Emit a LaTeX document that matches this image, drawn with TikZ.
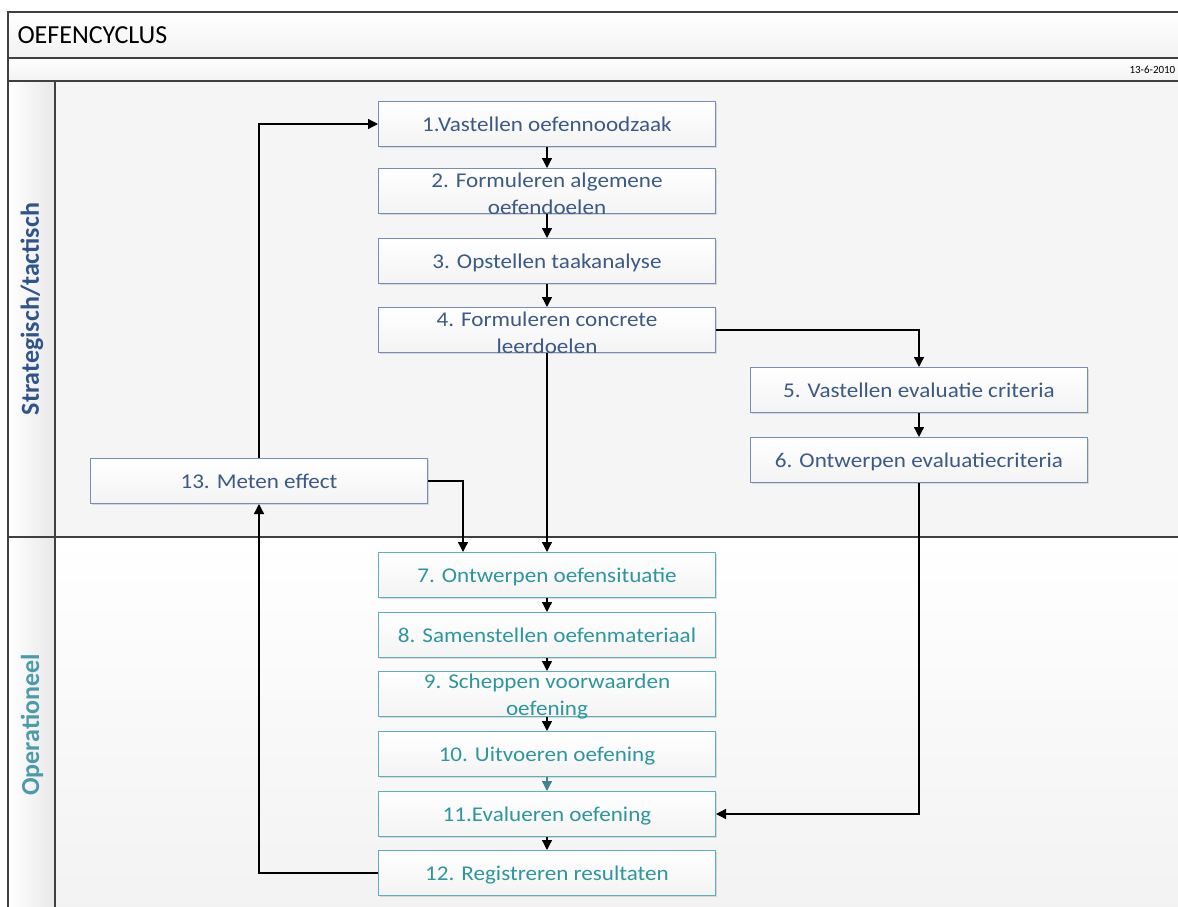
\documentclass[tikz,border=0pt]{standalone}
\usepackage{fontspec}
\setmainfont{Carlito}
\newfontfamily\stepfont[FakeStretch=1.1]{Carlito}
\usepackage{tikz}
\usetikzlibrary{arrows.meta,shadows}
\definecolor{stepblue}{RGB}{59,90,132}
\definecolor{stepteal}{RGB}{45,150,158}
\definecolor{edgeblue}{RGB}{118,142,182}
\definecolor{edgeteal}{RGB}{92,176,186}
\definecolor{laneblue}{RGB}{47,84,140}
\definecolor{laneteal}{RGB}{75,155,168}
\definecolor{framegray}{RGB}{64,64,64}
\newcommand{\boxw}{337pt}
\newcommand{\boxh}{45pt}

\begin{document}
\begin{tikzpicture}[x=1pt,y=-1pt]
    \useasboundingbox (0,0) rectangle (1178,907);
    \clip (0,0) rectangle (1178,907);
    \tikzset{
        stepbox/.style={draw, line width=1pt, minimum width=\boxw, minimum height=\boxh,
            inner sep=0pt, top color=white, bottom color=gray!9,
            font=\stepfont\fontsize{21}{27}\selectfont, text height=17pt, text depth=3pt,
            drop shadow={shadow xshift=1.5pt, shadow yshift=-1.5pt, opacity=.25}},
        bluebox/.style={stepbox, draw=edgeblue, text=stepblue},
        tealbox/.style={stepbox, draw=edgeteal, text=stepteal},
        steptext/.style={font=\stepfont\fontsize{21}{27}\selectfont, align=center, inner sep=0pt},
        flow/.style={line width=1.3pt, -{Triangle[length=10pt,width=10pt]}}
    }
    \begin{scope}
        %\draw[help lines] (0,0) grid[step=100] (1178,907);
        % bands and lanes
        \fill[top color=white, bottom color=gray!10] (8,12) rectangle (1190,58);
        \fill[top color=white, bottom color=gray!10] (8,58) rectangle (1190,81);
        \fill[gray!8] (55,81) rectangle (1190,537);
        \fill[top color=white, bottom color=gray!10] (55,537) rectangle (1190,910);
        \fill[left color=white, right color=gray!18] (8,81) rectangle (55,910);
        \draw[framegray, line width=1.2pt] (1190,12) -- (8,12) -- (8,910);
        \draw[framegray, line width=1.2pt] (8,58) -- (1190,58);
        \draw[framegray, line width=1.2pt] (8,81) -- (1190,81);
        \draw[framegray, line width=1.2pt] (8,537) -- (1190,537);
        \draw[framegray, line width=1.2pt] (55,81) -- (55,910);

        \node[anchor=west, font=\fontsize{26}{30}\selectfont] (title) at (14,35) {OEFENCYCLUS};
        \node[anchor=west, font=\fontsize{11}{13}\selectfont] (date) at (1126,70) {13-6-2010};
        \node[rotate=90, font=\bfseries\fontsize{26}{30}\selectfont, text=laneblue] (lane1) at (32,309) {Strategisch/tactisch};
        \node[rotate=90, font=\bfseries\fontsize{26}{30}\selectfont, text=laneteal] (lane2) at (32,725) {Operationeel};

        % strategisch/tactisch
        \node[bluebox] (v1) at (547,124) {1.Vastellen oefennoodzaak};
        \node[bluebox] (v2) at (547,191) {};
        \node[steptext, text=stepblue] (v2t) at ([yshift=-3pt]v2.center) {2. Formuleren algemene\\oefendoelen};
        \node[bluebox] (v3) at (547,261) {3. Opstellen taakanalyse};
        \node[bluebox] (v4) at (547,330) {};
        \node[steptext, text=stepblue] (v4t) at ([yshift=-3pt]v4.center) {4. Formuleren concrete\\leerdoelen};
        \node[bluebox] (v5) at (919,390) {5. Vastellen evaluatie criteria};
        \node[bluebox] (v6) at (919,460) {6. Ontwerpen evaluatiecriteria};
        \node[bluebox] (v13) at (259,481) {13. Meten effect};

        % operationeel
        \node[tealbox] (v7) at (547,575) {7. Ontwerpen oefensituatie};
        \node[tealbox] (v8) at (547,635) {8. Samenstellen oefenmateriaal};
        \node[tealbox] (v9) at (547,694) {};
        \node[steptext, text=stepteal] (v9t) at ([yshift=-3pt]v9.center) {9. Scheppen voorwaarden\\oefening};
        \node[tealbox] (v10) at (547,754) {10. Uitvoeren oefening};
        \node[tealbox] (v11) at (547,814) {11.Evalueren oefening};
        \node[tealbox] (v12) at (547,873) {12. Registreren resultaten};
        \coordinate (v7in) at ([xshift=85pt]v7.north west);

        \draw[flow] (v13.north) |- (v1.west);
        \draw[flow] (v1) -- (v2);
        \draw[flow] (v2) -- (v3);
        \draw[flow] (v3) -- (v4);
        \draw[flow] (v4.east) -| (v5.north);
        \draw[flow] (v5) -- (v6);
        \draw[flow] (v6.south) |- (v11.east);
        \draw[flow] (v4.south) -- (v7.north);
        \draw[flow] (v13.east) -| (v7in);
        \draw[flow] (v7) -- (v8);
        \draw[flow] (v8) -- (v9);
        \draw[flow] (v9) -- (v10);
        \draw[flow, draw=laneteal!85!black, fill=laneteal!85!black] (v10) -- (v11);
        \draw[flow] (v11) -- (v12);
        \draw[flow] (v12.west) -| (v13.south);
    \end{scope}
\end{tikzpicture}
\end{document}
